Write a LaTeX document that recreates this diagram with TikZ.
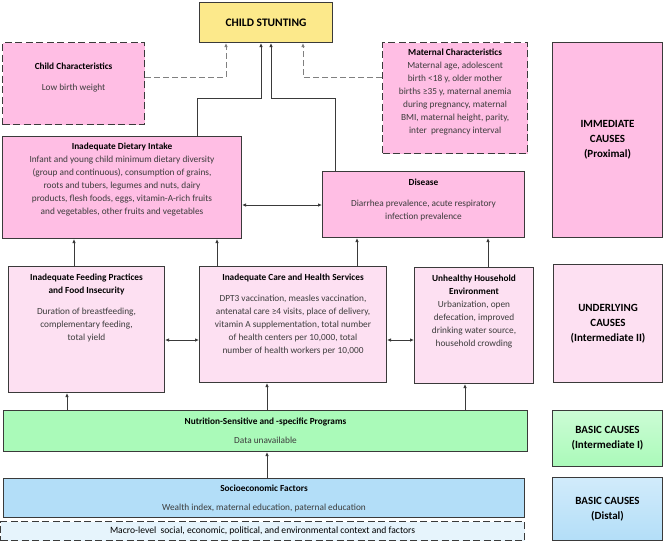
\documentclass[tikz,border=0pt]{standalone}
\usepackage{fontspec}
\setmainfont{Carlito}
\usetikzlibrary{arrows.meta}
\definecolor{stuntfill}{HTML}{FCE98B}
\definecolor{proxfill}{HTML}{FFBEE4}
\definecolor{undfill}{HTML}{FDE0F2}
\definecolor{progfill}{HTML}{AAFAB9}
\definecolor{sociofill}{HTML}{B3DEF8}
\definecolor{macrofill}{HTML}{E6F4FC}
\definecolor{edge}{HTML}{3A3A3A}
\definecolor{bodytext}{HTML}{3C3C3C}
% top aligned text block of a box: width, height, top gap, content
\newcommand{\boxtxt}[4]{\begin{minipage}[t][#2pt][t]{#1pt}\vspace*{#3pt}\centering #4\end{minipage}}
\newcommand{\ttl}[1]{{\bfseries\color{black}#1}}

\begin{document}
\begin{tikzpicture}
[x=1pt,y=-1pt,
 every node/.style={font=\fontsize{9.3}{13}\selectfont,text=bodytext},
 box/.style={rectangle,draw=edge,line width=1pt,inner sep=0pt,anchor=north west},
 dbox/.style={box,dashed,dash pattern=on 7pt off 3.5pt,line width=1.2pt},
 side/.style={box,align=center,font=\fontsize{11}{15}\selectfont\bfseries,text=black},
 link/.style={draw=edge,line width=0.8pt,-{Latex[length=4pt,width=3.5pt]}},
 both/.style={link,{Latex[length=4pt,width=3.5pt]}-{Latex[length=4pt,width=3.5pt]}},
 dlink/.style={link,draw=gray,dashed,dash pattern=on 6pt off 3pt}]
\useasboundingbox (0,0) rectangle (664,542);

% outcome
\node [box,fill=stuntfill,minimum width=133pt,minimum height=40pt,
  font=\fontsize{11.5}{14}\selectfont\bfseries,text=black] (stunt) at (199,2) {CHILD STUNTING};

% immediate causes
\node [dbox,fill=proxfill] (child) at (2,42)
  {\boxtxt{142}{82}{20}{\ttl{Child Characteristics}\\[8pt]Low birth weight}};
\node [dbox,fill=proxfill] (mat) at (382,42)
  {\boxtxt{145}{111}{6}{\ttl{Maternal Characteristics}\\Maternal age, adolescent\\
   birth <18 y, older mother\\births ≥35 y, maternal anemia\\during pregnancy, maternal\\
   BMI, maternal height, parity,\\inter\ \ pregnancy interval}};
\node [box,fill=proxfill] (diet) at (2,136)
  {\boxtxt{239}{102}{6}{\ttl{Inadequate Dietary Intake}\\
   Infant and young child minimum dietary diversity\\
   (group and continuous), consumption of grains,\\
   roots and tubers, legumes and nuts, dairy\\
   products, flesh foods, eggs, vitamin-A-rich fruits\\
   and vegetables, other fruits and vegetables}};
\node [box,fill=proxfill] (dis) at (322,171)
  {\boxtxt{202}{66}{7}{\ttl{Disease}\\[8pt]Diarrhea prevalence, acute respiratory\\infection prevalence}};

% underlying causes
\node [box,fill=undfill] (feed) at (8,266)
  {\boxtxt{156}{126}{7}{\ttl{Inadequate Feeding Practices\\and Food Insecurity}\\[8pt]
   Duration of breastfeeding,\\complementary feeding,\\total yield}};
\node [box,fill=undfill] (care) at (199,266)
  {\boxtxt{187}{116}{7}{\ttl{Inadequate Care and Health Services}\\[8pt]
   DPT3 vaccination, measles vaccination,\\antenatal care ≥4 visits, place of delivery,\\
   vitamin A supplementation, total number\\of health centers per 10,000, total\\
   number of health workers per 10,000}};
\node [box,fill=undfill] (hh) at (414,267)
  {\boxtxt{119}{116}{7}{\ttl{Unhealthy Household\\Environment}\\
   Urbanization, open\\defecation, improved\\drinking water source,\\household crowding}};

% basic causes
\node [box,fill=progfill,minimum width=524pt,minimum height=41pt,align=center] (prog) at (3,410)
  {\ttl{Nutrition-Sensitive and -specific Programs}\\[6pt]Data unavailable};
\node [box,fill=sociofill,minimum width=521pt,minimum height=39pt,align=center] (socio) at (3,478)
  {\ttl{Socioeconomic Factors}\\[6pt]Wealth index, maternal education, paternal education};
\node [dbox,fill=macrofill,minimum width=524pt,minimum height=19pt,text=black,
  font=\fontsize{9.6}{12}\selectfont] (macro) at (0,521)
  {Macro-level\ \ social, economic, political, and environmental context and factors};

% levels
\node [side,fill=proxfill,minimum width=110pt,minimum height=195pt] (imm) at (552,42)
  {IMMEDIATE\\CAUSES\\(Proximal)};
\node [side,fill=undfill,minimum width=109pt,minimum height=118pt] (und) at (553,264)
  {UNDERLYING\\CAUSES\\(Intermediate II)};
\node [side,top color=progfill!60,bottom color=progfill,minimum width=110pt,minimum height=56pt] (bas1) at (552,410)
  {BASIC CAUSES\\(Intermediate I)};
\node [side,top color=sociofill!60,bottom color=sociofill,minimum width=110pt,minimum height=63pt] (bas2) at (552,477)
  {BASIC CAUSES\\(Distal)};

% bends
\coordinate (cj) at (226,77);
\coordinate (mj) at (303,77);
\coordinate (dj) at (197,98);
\coordinate (dk) at (261,98);
\coordinate (sj) at (335,98);
\coordinate (sk) at (271,98);

% links
\draw [dlink] (child.east |- cj) -- (cj) -- (stunt.south -| cj);
\draw [dlink] (mat.west |- mj) -- (mj) -- (stunt.south -| mj);
\draw [link] (diet.north -| dj) -- (dj) -- (dk) -- (stunt.south -| dk);
\draw [link] (dis.north -| sj) -- (sj) -- (sk) -- (stunt.south -| sk);
\draw [both] (diet.east |- 0,205) -- (dis.west |- 0,205);
\draw [link] (feed.north -| 74,0) -- (diet.south -| 74,0);
\draw [link] (care.north -| 217,0) -- (diet.south -| 217,0);
\draw [link] (care.north -| 357,0) -- (dis.south -| 357,0);
\draw [link] (hh.north -| 488,0) -- (dis.south -| 488,0);
\draw [both] (feed.east |- 0,340) -- (care.west |- 0,340);
\draw [both] (care.east |- 0,340) -- (hh.west |- 0,340);
\draw [link] (prog.north -| 67,0) -- (feed.south -| 67,0);
\draw [link] (prog.north -| 267,0) -- (care.south -| 267,0);
\draw [link] (prog.north -| 465,0) -- (hh.south -| 465,0);
\draw [link] (socio.north -| 267,0) -- (prog.south -| 267,0);
\end{tikzpicture}
\end{document}
